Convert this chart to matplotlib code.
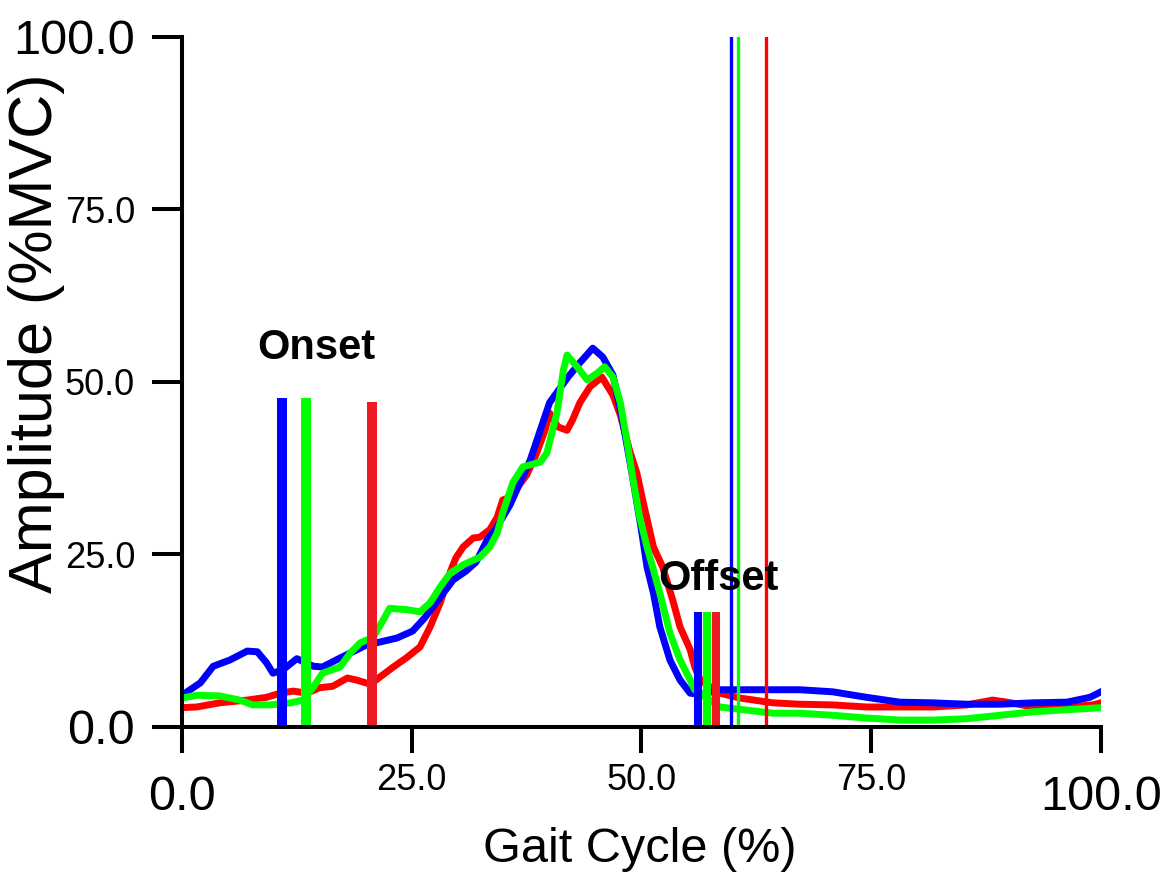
import matplotlib
matplotlib.use("Agg")
import matplotlib.pyplot as plt

plt.rcParams['font.family'] = ['Liberation Sans', 'DejaVu Sans']

# EMG envelopes, % gait cycle vs % MVC
blue_x = [0, 2.0, 3.4, 5.2, 7.1, 8.2, 9.2, 9.9, 11.0, 12.5, 14.3, 15.3, 17.2, 18.6,
          20.1, 21.5, 23.4, 25.1, 26.4, 28.1, 29.5, 30.9, 32.0, 33.2, 34.1, 35.7,
          37.9, 40.0, 42.0, 43.3, 44.7, 45.8, 46.9, 48.0, 49.0, 50.0, 50.6, 51.3,
          52.0, 53.1, 54.2, 55.3, 56.5, 58.5, 62.9, 67.2, 70.8, 74.5, 78.1, 81.7,
          85.4, 89.0, 92.6, 96.3, 98.8, 100]
blue_y = [4.6, 6.4, 8.8, 9.7, 11.0, 10.9, 9.3, 7.8, 8.3, 9.9, 8.8, 8.7, 10.0, 10.9,
          11.9, 12.3, 12.9, 13.9, 15.8, 18.8, 21.3, 22.6, 23.9, 27.1, 28.6, 32.2,
          38.7, 47.0, 50.7, 52.8, 54.9, 53.6, 51.0, 44.0, 36.5, 28.5, 23.2, 19.4,
          14.5, 9.7, 6.8, 4.9, 4.7, 5.4, 5.4, 5.4, 5.1, 4.3, 3.6, 3.5,
          3.3, 3.3, 3.5, 3.6, 4.3, 5.1]

green_x = [0, 1.6, 4.1, 6.3, 7.7, 9.6, 11.8, 13.2, 14.3, 15.3, 17.2, 18.3, 19.4,
           20.8, 21.9, 22.6, 24.5, 25.9, 27.0, 28.1, 29.2, 30.6, 32.4, 33.5, 34.3,
           34.9, 36.0, 37.1, 39.0, 39.7, 40.8, 41.5, 41.9, 43.0, 44.1, 45.2, 46.0,
           46.9, 47.7, 48.4, 49.1, 49.8, 50.6, 51.3, 52.0, 53.1, 54.2, 55.3, 55.8,
           58.5, 64.3, 67.2, 70.8, 74.5, 78.1, 81.7, 85.4, 89.0, 92.6, 96.3, 100]
green_y = [4.2, 4.6, 4.5, 3.9, 3.2, 3.2, 3.5, 3.9, 5.8, 7.8, 8.7, 10.7, 12.2,
           13.0, 15.5, 17.2, 17.0, 16.7, 18.0, 20.3, 22.3, 23.5, 24.6, 26.1, 28.1,
           31.0, 35.4, 37.7, 38.4, 39.7, 45.5, 51.7, 53.9, 52.2, 50.3, 51.3, 52.2,
           50.7, 47.0, 41.6, 35.8, 30.4, 26.1, 22.8, 19.4, 13.6, 9.7, 6.8, 5.4,
           2.9, 2.0, 2.0, 1.7, 1.3, 1.0, 1.0, 1.2, 1.7, 2.2, 2.5, 2.8]

red_x = [0, 1.6, 4.1, 7.1, 9.2, 10.7, 12.1, 13.6, 15.0, 16.4, 18.0, 19.0, 20.5,
         21.5, 23.0, 24.5, 25.9, 27.0, 28.1, 29.2, 29.8, 30.6, 31.7, 32.4, 33.5,
         34.3, 34.9, 35.7, 37.5, 38.6, 39.5, 40.0, 40.9, 41.9, 42.5, 43.3, 44.4,
         45.7, 46.2, 46.9, 47.7, 48.7, 49.5, 50.2, 51.3, 52.3, 53.4, 54.2, 55.3,
         55.8, 56.4, 58.5, 60.7, 64.3, 67.2, 70.8, 74.5, 78.1, 81.7, 85.4, 88.2,
         89.8, 92.6, 96.3, 99.1, 100]
red_y = [2.8, 2.9, 3.5, 3.9, 4.3, 4.9, 5.2, 4.9, 5.7, 5.9, 7.1, 6.8, 6.2,
         7.2, 8.7, 10.1, 11.6, 14.5, 18.0, 22.5, 24.5, 26.1, 27.4, 27.5, 28.6,
         30.4, 32.9, 33.3, 36.5, 39.7, 43.0, 45.5, 43.5, 43.0, 44.5, 47.0, 49.3,
         50.7, 49.6, 48.1, 45.2, 40.1, 36.8, 32.5, 26.1, 23.2, 18.4, 14.5, 11.2,
         8.7, 6.8, 4.9, 4.2, 3.5, 3.3, 3.2, 2.9, 2.9, 2.9, 3.2, 3.9,
         3.6, 2.9, 2.9, 3.2, 3.5]

# onset / offset markers (blue, green, red)
onset_x = [10.9, 13.5, 20.7]
onset_top = [47.7, 47.7, 47.1]
offset_x = [56.2, 57.1, 58.1]
offset_top = [16.7, 16.7, 16.7]
mark_x = [59.7, 60.5, 63.5]

ticks = [0, 25, 50, 75, 100]
tick_labels = ["0.0", "25.0", "50.0", "75.0", "100.0"]

fig = plt.figure(figsize=(11.68, 8.74), dpi=100)
ax = fig.add_axes([0.1558, 0.1682, 0.7868, 0.7895])

ax.plot(red_x, red_y, color='#FF0000', lw=5, zorder=2, solid_joinstyle='round')
ax.plot(blue_x, blue_y, color='#0000FF', lw=5, zorder=2, solid_joinstyle='round')
ax.plot(green_x, green_y, color='#00FF00', lw=5, zorder=2, solid_joinstyle='round')

bar_cols = ['#0000FF', '#00FF00', '#ED1C24']
line_cols = ['#0000FF', '#00FF00', '#FF0000']
for i in range(3):
    ax.vlines(onset_x[i], 0, onset_top[i], color=bar_cols[i], lw=7.2, zorder=3)
    ax.vlines(offset_x[i], 0, offset_top[i], color=bar_cols[i], lw=5.8, zorder=3)
    ax.axvline(mark_x[i], color=line_cols[i], lw=2.4, zorder=3)

ax.text(14.6, 54.9, "Onset", fontsize=30, fontweight='bold', ha='center', va='center', zorder=4)
ax.text(58.4, 21.4, "Offset", fontsize=30, fontweight='bold', ha='center', va='center', zorder=4)

ax.set_xlim(0, 100)
ax.set_ylim(0, 100)
for s in ['top', 'right']:
    ax.spines[s].set_visible(False)
for s in ['left', 'bottom']:
    ax.spines[s].set_linewidth(2.9)
    ax.spines[s].set_zorder(5)

ax.set_xticks(ticks)
ax.set_xticklabels(tick_labels)
ax.set_yticks(ticks)
ax.set_yticklabels(tick_labels)
ax.tick_params(axis='x', length=18.7, width=2.9, pad=7.2, direction='out')
ax.tick_params(axis='y', length=21.6, width=2.9, pad=12.2, direction='out')

for i, lbl in enumerate(ax.get_xticklabels()):
    lbl.set_fontsize(35 if i in (0, 4) else 26)
for i, lbl in enumerate(ax.get_yticklabels()):
    lbl.set_fontsize(35 if i in (0, 4) else 26)
xt = ax.xaxis.get_major_ticks()
xt[0].set_pad(16)
xt[4].set_pad(16)

ax.set_xlabel("Gait Cycle (%)", fontsize=35, va='center')
ax.xaxis.set_label_coords(0.498, -0.178)
ax.set_ylabel("Amplitude (%MVC)", fontsize=44, va='center')
ax.yaxis.set_label_coords(-0.158, 0.57)

fig.savefig("out.png", dpi=100)
